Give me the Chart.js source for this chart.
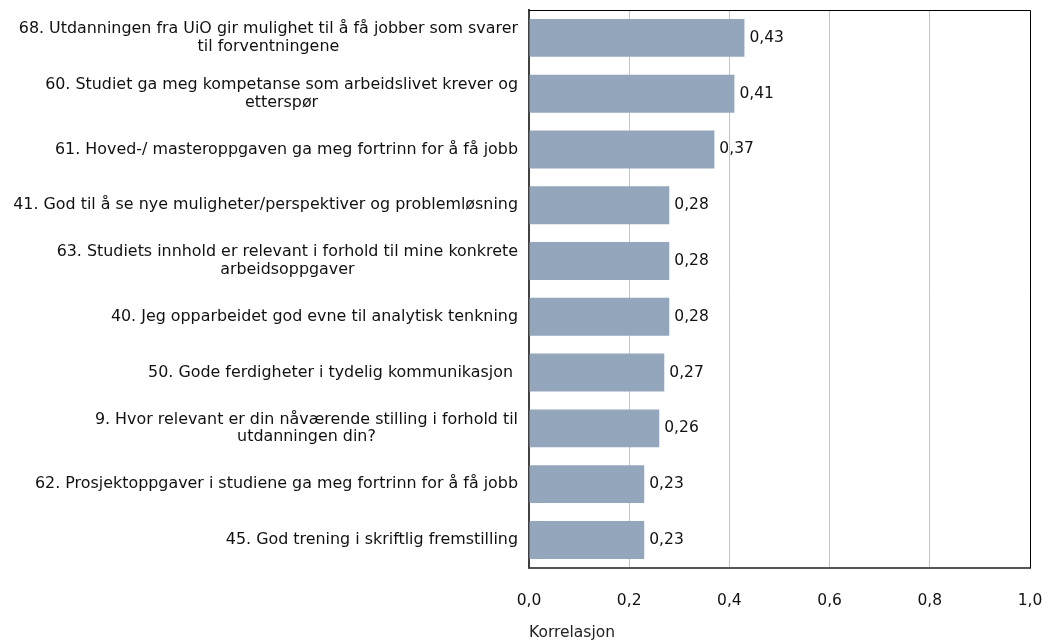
<!DOCTYPE html>
<html>
<head>
<meta charset="utf-8">
<title>Korrelasjon</title>
<script src="https://cdn.jsdelivr.net/npm/chart.js@4"></script>
<style>
    html, body { margin: 0; padding: 0; background: #fff; }
    #wrap { width: 1050px; height: 642px; position: relative; }
</style>
</head>
<body>
<div id="wrap"><canvas id="corr-chart"></canvas></div>
<script>
// Spørsmål (wrapped over two lines where needed)
const questions = [
    ['68. Utdanningen fra UiO gir mulighet til å få jobber som svarer', 'til forventningene'],
    ['60. Studiet ga meg kompetanse som arbeidslivet krever og', 'etterspør'],
    ['61. Hoved-/ masteroppgaven ga meg fortrinn for å få jobb'],
    ['41. God til å se nye muligheter/perspektiver og problemløsning'],
    ['63. Studiets innhold er relevant i forhold til mine konkrete', 'arbeidsoppgaver'],
    ['40. Jeg opparbeidet god evne til analytisk tenkning'],
    ['50. Gode ferdigheter i tydelig kommunikasjon '],
    ['9. Hvor relevant er din nåværende stilling i forhold til', 'utdanningen din?'],
    ['62. Prosjektoppgaver i studiene ga meg fortrinn for å få jobb'],
    ['45. God trening i skriftlig fremstilling']
];
const correlations = [0.43, 0.41, 0.37, 0.28, 0.28, 0.28, 0.27, 0.26, 0.23, 0.23];
const xTicks = [0, 0.2, 0.4, 0.6, 0.8, 1.0];

const FONT = '"DejaVu Sans", Verdana, sans-serif';
const SIZE = 15.5;
const fmt = (v, d) => v.toFixed(d).replace('.', ',');

// Draws the question labels: block right-aligned, lines centred inside the block
const questionLabels = {
    id: 'questionLabels',
    afterDraw(chart) {
        const ctx = chart.ctx;
        const y = chart.scales.y;
        ctx.save();
        ctx.font = '15.9px ' + FONT;
        ctx.fillStyle = '#111';
        ctx.textAlign = 'center';
        ctx.textBaseline = 'middle';
        const lineH = 17.5;
        const right = y.right - 11;
        questions.forEach((lines, i) => {
            const widest = Math.max(...lines.map(l => ctx.measureText(l).width));
            const cx = right - widest / 2;
            const cy = y.getPixelForTick(i);
            const top = cy - (lines.length - 1) * lineH / 2;
            lines.forEach((l, k) => ctx.fillText(l, cx, top + k * lineH));
        });
        ctx.restore();
    }
};

// Value labels after each bar, plus the frame round the plot area
const barValues = {
    id: 'barValues',
    afterDatasetsDraw(chart) {
        const ctx = chart.ctx;
        const area = chart.chartArea;
        ctx.save();
        // top and right frame
        ctx.strokeStyle = '#000';
        ctx.lineWidth = 1;
        ctx.beginPath();
        ctx.moveTo(area.left, area.top + 0.5);
        ctx.lineTo(area.right + 0.5, area.top + 0.5);
        ctx.lineTo(area.right + 0.5, area.bottom);
        ctx.stroke();

        ctx.font = SIZE + 'px ' + FONT;
        ctx.fillStyle = '#111';
        ctx.textAlign = 'left';
        ctx.textBaseline = 'middle';
        chart.getDatasetMeta(0).data.forEach((bar, i) => {
            ctx.fillText(fmt(correlations[i], 2), bar.x + 5, bar.y);
        });
        ctx.restore();
    }
};

new Chart(document.getElementById('corr-chart'), {
    type: 'bar',
    data: {
        labels: questions.map(q => q.join(' ')),
        datasets: [{
            data: correlations,
            backgroundColor: '#94a6bb',
            borderWidth: 0,
            categoryPercentage: 1,
            barPercentage: 0.68
        }]
    },
    options: {
        indexAxis: 'y',
        responsive: true,
        maintainAspectRatio: false,
        animation: false,
        layout: { padding: { top: 10, right: 0, bottom: 0 } },
        plugins: {
            legend: { display: false },
            tooltip: { enabled: false }
        },
        scales: {
            x: {
                min: 0,
                max: 1,
                afterBuildTicks: s => { s.ticks = xTicks.map(v => ({ value: v })); },
                afterFit: s => { s.paddingRight = 20; },
                ticks: {
                    callback: v => fmt(v, 1),
                    font: { family: FONT, size: SIZE },
                    color: '#111',
                    padding: 24
                },
                grid: {
                    color: '#c4c4c4',
                    drawTicks: false
                },
                border: { color: '#555', width: 2 },
                title: {
                    display: true,
                    text: 'Korrelasjon',
                    align: 'start',
                    font: { family: FONT, size: SIZE },
                    color: '#222',
                    padding: { top: -11, bottom: 0 }
                }
            },
            y: {
                ticks: { display: false },
                grid: { display: false, drawTicks: false },
                border: { color: '#404040', width: 2 },
                afterFit: s => { s.width = 529; }
            }
        }
    },
    plugins: [questionLabels, barValues]
});
</script>
</body>
</html>
